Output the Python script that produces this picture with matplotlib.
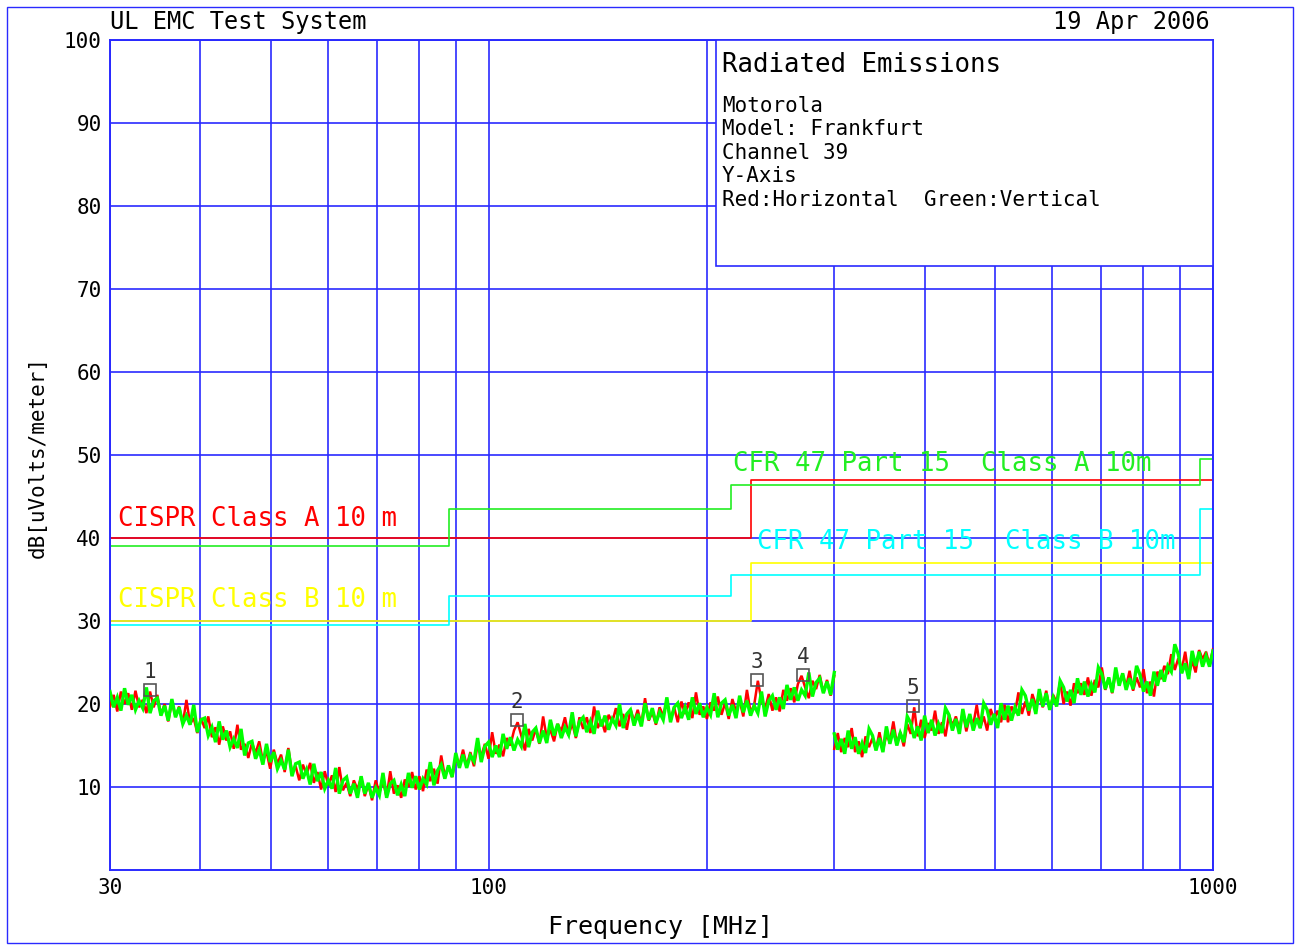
# Запуск: python plot.py  ->  out.png
# Отчёт об излучаемых помехах (UL EMC Test System)

import matplotlib
matplotlib.use("Agg")
import matplotlib.pyplot as plt
from matplotlib.patches import Rectangle
from matplotlib.ticker import FixedLocator, NullFormatter
import numpy as np

W, H = 1299, 946
BLUE = "#2a2aff"

# ------------------------------------------------
# Нормы (ступенчатые линии), МГц -> дБ(мкВ/м)
# ------------------------------------------------
CISPR_FREQ = [30, 230, 1000]
CISPR_A_LEVEL = [40, 47, 47]
CISPR_B_LEVEL = [30, 37, 37]
FCC_FREQ = [30, 88, 216, 960, 1000]
FCC_A_LEVEL = [39, 43.5, 46.4, 49.5, 49.5]
FCC_B_LEVEL = [29.5, 33, 35.5, 43.5, 43.5]

# ------------------------------------------------
# Измеренные трассы: два диапазона (30-300, 300-1000 МГц)
# ------------------------------------------------
LOW_BAND = (30, 300)
HIGH_BAND = (300, 1000)

GREEN_LOW = [
    21.5, 19.6, 20.8, 19.2, 21.9, 19.9, 21.1, 19.3, 20.4, 19.5,
    22.0, 18.9, 20.4, 20.7, 18.6, 19.8, 18.0, 20.6, 18.4, 19.6,
    17.6, 18.6, 17.5, 19.9, 16.6, 18.1, 18.3, 16.2, 17.2, 15.4,
    17.9, 15.7, 16.8, 14.8, 15.8, 14.7, 17.0, 13.8, 15.3, 15.5,
    13.4, 14.5, 12.7, 15.2, 13.0, 14.2, 12.2, 13.2, 12.1, 14.5,
    11.3, 12.8, 13.0, 11.0, 12.1, 10.3, 12.8, 10.7, 11.8, 9.8,
    10.8, 9.8, 12.3, 9.2, 10.8, 11.2, 9.2, 10.4, 8.7, 11.3,
    9.2, 10.5, 8.7, 9.9, 9.0, 11.7, 8.7, 10.4, 10.8, 9.0,
    10.3, 8.9, 11.7, 9.9, 11.3, 9.7, 11.0, 10.3, 13.0, 10.2,
    12.0, 12.7, 11.0, 12.6, 11.2, 14.1, 12.3, 13.9, 12.3, 13.8,
    13.1, 15.9, 13.0, 14.9, 15.4, 13.6, 15.0, 13.6, 16.4, 14.6,
    16.0, 14.4, 15.7, 14.9, 17.6, 14.8, 16.6, 17.1, 15.3, 16.8,
    15.3, 18.1, 16.2, 17.6, 15.9, 17.2, 16.3, 19.0, 16.1, 17.9,
    18.4, 16.6, 17.9, 16.4, 19.2, 17.3, 18.6, 16.9, 18.2, 17.4,
    20.0, 17.1, 18.8, 19.3, 17.4, 18.8, 17.3, 20.1, 18.1, 19.5,
    17.7, 19.0, 18.1, 20.8, 17.8, 19.6, 20.1, 18.3, 19.6, 18.1,
    20.8, 18.8, 20.1, 18.4, 19.6, 18.7, 21.3, 18.4, 20.1, 20.5,
    18.6, 19.9, 18.3, 21.0, 19.0, 20.4, 18.6, 19.8, 18.9, 21.5,
    18.5, 20.4, 21.0, 19.3, 20.8, 19.4, 22.3, 20.5, 22.0, 20.4,
    21.7, 21.0, 23.8, 20.9, 22.6, 23.1, 21.3, 22.7, 21.1, 23.8,
]
RED_LOW = [
    19.7, 21.1, 19.1, 21.5, 20.0, 21.3, 19.3, 21.6, 19.6, 20.5,
    18.9, 21.5, 19.6, 21.1, 18.7, 20.0, 17.9, 20.2, 18.5, 19.7,
    17.6, 20.5, 17.6, 18.3, 16.5, 18.3, 17.1, 18.5, 16.0, 17.2,
    15.1, 17.3, 15.6, 16.7, 14.6, 17.5, 14.5, 15.2, 13.5, 15.3,
    14.1, 15.5, 13.1, 14.3, 12.2, 14.5, 12.8, 13.9, 11.8, 14.7,
    11.8, 12.5, 10.8, 12.7, 11.5, 12.9, 10.5, 11.8, 9.7, 11.9,
    10.2, 11.4, 9.4, 12.4, 9.6, 10.5, 8.9, 10.8, 9.7, 11.2,
    8.9, 10.3, 8.4, 10.8, 9.3, 10.7, 8.8, 11.9, 9.2, 10.2,
    8.7, 10.9, 10.0, 11.8, 9.7, 11.3, 9.5, 12.1, 10.7, 12.2,
    10.4, 13.8, 11.3, 12.5, 11.2, 13.4, 12.6, 14.5, 12.5, 14.2,
    12.5, 15.1, 13.7, 15.2, 13.4, 16.6, 14.0, 15.1, 13.7, 15.9,
    15.0, 16.8, 17.8, 16.2, 14.4, 17.0, 15.6, 17.0, 15.2, 18.5,
    15.9, 16.9, 15.5, 17.6, 16.7, 18.4, 16.2, 17.7, 15.9, 18.4,
    17.0, 18.4, 16.5, 19.7, 17.1, 18.1, 16.6, 18.7, 17.8, 19.5,
    17.3, 18.8, 16.9, 19.4, 17.9, 19.3, 17.5, 20.7, 18.0, 19.0,
    17.5, 19.6, 18.6, 20.3, 18.1, 19.6, 17.8, 20.3, 18.8, 20.2,
    18.3, 21.4, 18.7, 19.7, 18.2, 20.2, 19.2, 20.9, 18.7, 20.1,
    18.2, 20.6, 19.1, 20.4, 18.5, 21.7, 19.0, 19.9, 22.8, 20.4,
    19.4, 21.2, 19.2, 20.8, 19.1, 21.7, 20.4, 21.9, 20.2, 22.4,
    23.4, 22.0, 20.7, 22.8, 21.8, 23.5, 21.4, 22.9, 21.0, 23.4,
]
GREEN_HIGH = [
    16.4, 14.5, 15.8, 14.0, 16.8, 14.6, 16.0, 14.0, 15.3, 14.1,
    17.0, 16.2, 14.4, 15.9, 14.2, 17.3, 15.2, 16.9, 15.0, 16.5,
    15.4, 18.5, 17.7, 15.9, 17.3, 15.6, 18.6, 16.5, 18.1, 16.2,
    17.6, 16.5, 19.5, 18.7, 16.8, 18.2, 16.4, 19.4, 17.2, 18.8,
    16.8, 18.3, 17.1, 20.1, 19.3, 17.5, 18.8, 17.1, 20.1, 18.1,
    19.8, 18.0, 19.6, 18.6, 21.7, 21.0, 19.2, 20.6, 18.8, 21.8,
    19.7, 21.3, 19.3, 20.8, 19.7, 22.8, 22.0, 20.3, 21.7, 20.1,
    23.1, 21.1, 22.7, 20.9, 22.4, 21.4, 24.4, 23.6, 21.8, 23.2,
    21.4, 24.4, 22.2, 23.7, 21.7, 23.1, 21.8, 24.6, 23.5, 21.5,
    22.7, 21.0, 23.9, 22.2, 24.1, 22.7, 24.6, 23.9, 27.2, 26.0,
    23.7, 24.9, 23.0, 26.4, 24.6, 26.3, 24.5, 25.8, 24.5, 26.4,
]
RED_HIGH = [
    14.6, 16.5, 14.2, 15.9, 14.8, 17.1, 14.2, 15.5, 13.6, 16.1,
    14.8, 15.9, 14.5, 16.6, 14.4, 16.3, 15.4, 17.9, 15.2, 16.6,
    14.9, 17.6, 16.4, 19.6, 16.1, 18.1, 15.9, 17.7, 16.8, 19.2,
    16.4, 17.8, 16.1, 18.7, 17.4, 18.5, 17.0, 19.0, 16.7, 18.5,
    17.5, 19.9, 17.1, 18.5, 16.8, 19.4, 18.1, 19.2, 17.8, 19.9,
    17.8, 19.7, 18.9, 21.4, 18.8, 20.3, 18.6, 21.2, 19.9, 21.0,
    19.6, 21.6, 19.3, 21.1, 20.2, 22.7, 20.0, 21.5, 19.8, 22.5,
    21.3, 22.5, 21.1, 23.2, 21.0, 22.9, 22.0, 24.4, 21.7, 23.1,
    21.3, 23.9, 22.6, 23.6, 22.1, 24.0, 21.6, 23.2, 22.0, 24.2,
    21.3, 22.7, 20.9, 23.9, 23.0, 24.6, 23.6, 26.0, 24.1, 25.5,
    24.1, 26.3, 23.4, 25.2, 23.8, 26.5, 25.4, 26.3, 24.7, 26.6,
]

# Маркеры пиков
MARKER_FREQ = [34.1, 109.4, 234.6, 271.6, 385.0]
MARKER_LEVEL = [21.7, 18.1, 22.9, 23.5, 19.8]
MARKER_LABELS = ["1", "2", "3", "4", "5"]

# Оси
Y_TICKS = [10, 20, 30, 40, 50, 60, 70, 80, 90, 100]
X_TICKS = [30, 100, 1000]
X_GRID = [40, 50, 60, 70, 80, 90, 200, 300, 400, 500, 600, 700, 800, 900]

INFO_LINES = ["Motorola", "Model: Frankfurt", "Channel 39", "Y-Axis",
              "Red:Horizontal  Green:Vertical"]


def px(x, y):
    # пиксели картинки -> доли фигуры
    return x / W, 1 - y / H


#-------------------------------------------------
# Трасса анализатора (точки развёртки равномерны по логарифму)
#-------------------------------------------------
def draw_trace(ax, band, values, color, lw, z):
    f = np.geomspace(band[0], band[1], len(values))
    ax.plot(f, values, color=color, lw=lw, zorder=z, solid_joinstyle="miter")


#-------------------------------------------------
# Рисуем график
#-------------------------------------------------
def draw_chart(filename="out.png"):
    plt.rcParams["font.family"] = "DejaVu Sans Mono"
    fig = plt.figure(figsize=(W / 100, H / 100), dpi=100)
    ax = fig.add_axes([110 / W, 76 / H, 1103 / W, 830 / H])

    # рамка вокруг всего листа
    fig.add_artist(Rectangle(px(7, 943), 1286 / W, 936 / H, transform=fig.transFigure,
                             fill=False, ec=BLUE, lw=1))

    ax.set_xscale("log")
    ax.set_xlim(30, 1000)
    ax.set_ylim(0, 100)
    ax.set_axisbelow(True)

    ax.xaxis.set_major_locator(FixedLocator(X_TICKS))
    ax.xaxis.set_minor_locator(FixedLocator(X_GRID))
    ax.xaxis.set_minor_formatter(NullFormatter())
    ax.set_xticklabels([str(t) for t in X_TICKS])
    ax.set_yticks(Y_TICKS)
    ax.tick_params(which="both", length=0, labelsize=15, colors="black")
    ax.tick_params(axis="x", pad=6)
    ax.tick_params(axis="y", pad=6)
    ax.grid(which="both", color=BLUE, lw=1.2)
    for s in ax.spines.values():
        s.set_color(BLUE)
        s.set_linewidth(1.4)

    # нормы
    ax.step(CISPR_FREQ, CISPR_A_LEVEL, where="post", color="#ff0000", lw=1.2, zorder=2)
    ax.step(CISPR_FREQ, CISPR_B_LEVEL, where="post", color="#ffff00", lw=1.2, zorder=2)
    ax.step(FCC_FREQ, FCC_A_LEVEL, where="post", color="#22ee22", lw=1.2, zorder=2)
    ax.step(FCC_FREQ, FCC_B_LEVEL, where="post", color="#00ffff", lw=1.2, zorder=2)

    # трассы: красная (горизонтальная) под зелёной (вертикальной)
    draw_trace(ax, LOW_BAND, RED_LOW, "#ff0000", 1.8, 4)
    draw_trace(ax, HIGH_BAND, RED_HIGH, "#ff0000", 1.8, 4)
    draw_trace(ax, LOW_BAND, GREEN_LOW, "#00ff00", 2.4, 5)
    draw_trace(ax, HIGH_BAND, GREEN_HIGH, "#00ff00", 2.4, 5)

    # маркеры
    ax.plot(MARKER_FREQ, MARKER_LEVEL, "s", ms=8, mfc="none", mec="#555555",
            mew=1.2, zorder=6)
    for f, lv, lab in zip(MARKER_FREQ, MARKER_LEVEL, MARKER_LABELS):
        ax.annotate(lab, (f, lv), xytext=(0, 13), textcoords="offset points",
                    ha="center", va="center", fontsize=15, color="#333333", zorder=6)

    # блок с описанием
    ax.add_patch(Rectangle((0.5494, 0.7277), 0.4506, 0.2723, transform=ax.transAxes,
                           fc="white", ec=BLUE, lw=1.2, zorder=3))
    fig.text(*px(722, 65), "Radiated Emissions", fontsize=18.5, va="center", ha="left")
    for y, line in zip([106, 129, 153, 176, 200], INFO_LINES):
        fig.text(*px(722, y), line, fontsize=15, va="center", ha="left")

    # подписи норм
    fig.text(*px(118, 519), "CISPR Class A 10 m", color="#ff0000", fontsize=18.5,
             va="center")
    fig.text(*px(118, 600), "CISPR Class B 10 m", color="#ffff00", fontsize=18.5,
             va="center")
    fig.text(*px(733, 464), "CFR 47 Part 15  Class A 10m", color="#22ee22", fontsize=18.5,
             va="center")
    fig.text(*px(757, 542), "CFR 47 Part 15  Class B 10m", color="#00ffff", fontsize=18.5,
             va="center")

    # заголовки и подписи осей
    fig.text(*px(110, 22), "UL EMC Test System", fontsize=17, va="center", ha="left")
    fig.text(*px(1210, 22), "19 Apr 2006", fontsize=17, va="center", ha="right")
    fig.text(*px(660, 927), "Frequency [MHz]", fontsize=18, va="center", ha="center")
    fig.text(*px(38, 457), "dB[uVolts/meter]", fontsize=15, va="center", ha="center",
             rotation=90)

    fig.savefig(filename, dpi=100)
    print("Saved:", filename)


def main():
    draw_chart()


if __name__ == "__main__":
    main()
